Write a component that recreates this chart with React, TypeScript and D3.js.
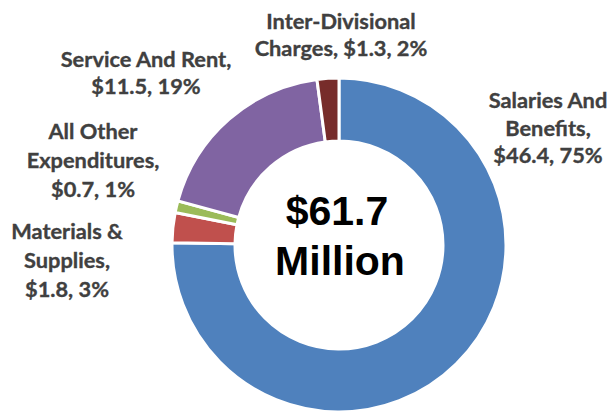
import React from "react";
import * as d3 from "d3";

const categories = [
  "Salaries And Benefits",
  "Materials & Supplies",
  "All Other Expenditures",
  "Service And Rent",
  "Inter-Divisional Charges",
];
const values = [46.4, 1.8, 0.7, 11.5, 1.3];
const percents = ["75%", "3%", "1%", "19%", "2%"];
const colors = ["#4F81BD", "#C0504D", "#9BBB59", "#8064A2", "#772C2A"];
const labelLines = [
  ["Salaries And", "Benefits,", "$46.4, 75%"],
  ["Materials &", "Supplies,", "$1.8, 3%"],
  ["All Other", "Expenditures,", "$0.7, 1%"],
  ["Service And Rent,", "$11.5, 19%"],
  ["Inter-Divisional", "Charges, $1.3, 2%"],
];
const centerLines = ["$61.7", "Million"];

// label anchor (center x, first baseline y, line step)
const labelPos = [
  [548, 108, 27.5],
  [67, 239, 29],
  [93, 139, 29],
  [146, 67, 26.5],
  [341, 29, 27],
];

export default function App() {
  const W = 612, H = 412;
  const cx = 339, cy = 245, R = 167, r = 104;
  const pie = d3.pie<number>().sort(null).value((d) => d)(values);
  const arc = d3.arc<d3.PieArcDatum<number>>().innerRadius(r).outerRadius(R);
  const font = "Lato, 'Open Sans', sans-serif";
  return (
    <svg width={W} height={H} style={{ position: "absolute", left: 0, top: 0 }}>
      <rect width={W} height={H} fill="#fff" />
      <g transform={`translate(${cx},${cy})`}>
        {pie.map((p, i) => (
          <path key={categories[i]} d={arc(p) || ""} fill={colors[i]} stroke="#fff" strokeWidth={3} strokeLinejoin="miter" />
        ))}
      </g>
      {labelLines.map((lines, i) => (
        <text key={i} fontFamily={font} fontWeight={700} fontSize={21.8} fill="#404040" stroke="#404040" strokeWidth={0.35} textAnchor="middle">
          {lines.map((l, j) => (
            <tspan key={j} x={labelPos[i][0]} y={labelPos[i][1] + j * labelPos[i][2]}>{l}</tspan>
          ))}
        </text>
      ))}
      <text fontFamily="'Liberation Sans', Arial, sans-serif" fontWeight={700} fontSize={41} fill="#000" textAnchor="middle">
        <tspan x={337} y={225}>{centerLines[0]}</tspan>
        <tspan x={340} y={275}>{centerLines[1]}</tspan>
      </text>
    </svg>
  );
}
